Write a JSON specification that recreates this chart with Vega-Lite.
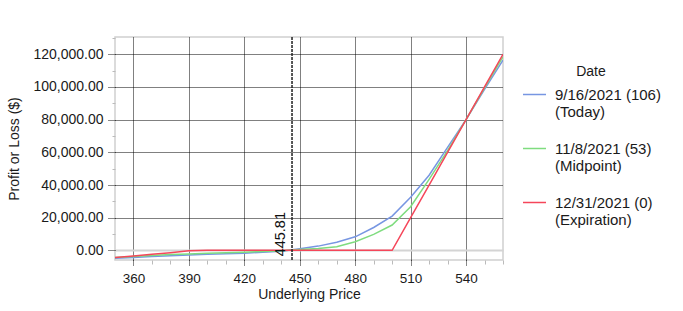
{
  "$schema": "https://vega.github.io/schema/vega-lite/v6.json",
  "width": 388,
  "height": 223,
  "autosize": "none",
  "padding": {"left": 115, "top": 37, "right": 180, "bottom": 51},
  "background": "white",
  "config": {
    "font": "Liberation Sans",
    "view": {"stroke": "#d0d0d0", "strokeWidth": 1.5},
    "axis": {
      "labelFont": "Liberation Sans",
      "titleFont": "Liberation Sans",
      "labelFontSize": 14,
      "titleFontSize": 14,
      "titleFontWeight": "normal",
      "labelColor": "#1a1a1a",
      "titleColor": "#1a1a1a",
      "labelOverlap": false,
      "domain": false
    },
    "legend": {
      "labelFont": "Liberation Sans",
      "titleFont": "Liberation Sans",
      "labelColor": "#1a1a1a",
      "titleColor": "#1a1a1a"
    }
  },
  "data": {
    "values": [
      {"price": 350, "pl": -4900, "date": "9/16/2021 (106)|(Today)"},
      {"price": 360, "pl": -4300, "date": "9/16/2021 (106)|(Today)"},
      {"price": 370, "pl": -3800, "date": "9/16/2021 (106)|(Today)"},
      {"price": 380, "pl": -3300, "date": "9/16/2021 (106)|(Today)"},
      {"price": 390, "pl": -2900, "date": "9/16/2021 (106)|(Today)"},
      {"price": 400, "pl": -2400, "date": "9/16/2021 (106)|(Today)"},
      {"price": 410, "pl": -2000, "date": "9/16/2021 (106)|(Today)"},
      {"price": 420, "pl": -1700, "date": "9/16/2021 (106)|(Today)"},
      {"price": 430, "pl": -1100, "date": "9/16/2021 (106)|(Today)"},
      {"price": 440, "pl": -500, "date": "9/16/2021 (106)|(Today)"},
      {"price": 450, "pl": 1000, "date": "9/16/2021 (106)|(Today)"},
      {"price": 460, "pl": 2600, "date": "9/16/2021 (106)|(Today)"},
      {"price": 470, "pl": 5000, "date": "9/16/2021 (106)|(Today)"},
      {"price": 480, "pl": 8300, "date": "9/16/2021 (106)|(Today)"},
      {"price": 490, "pl": 14000, "date": "9/16/2021 (106)|(Today)"},
      {"price": 500, "pl": 21000, "date": "9/16/2021 (106)|(Today)"},
      {"price": 510, "pl": 32500, "date": "9/16/2021 (106)|(Today)"},
      {"price": 520, "pl": 46000, "date": "9/16/2021 (106)|(Today)"},
      {"price": 530, "pl": 63000, "date": "9/16/2021 (106)|(Today)"},
      {"price": 540, "pl": 80000, "date": "9/16/2021 (106)|(Today)"},
      {"price": 550, "pl": 98500, "date": "9/16/2021 (106)|(Today)"},
      {"price": 560, "pl": 116500, "date": "9/16/2021 (106)|(Today)"},
      {"price": 350, "pl": -4300, "date": "11/8/2021 (53)|(Midpoint)"},
      {"price": 360, "pl": -3700, "date": "11/8/2021 (53)|(Midpoint)"},
      {"price": 370, "pl": -3100, "date": "11/8/2021 (53)|(Midpoint)"},
      {"price": 380, "pl": -2600, "date": "11/8/2021 (53)|(Midpoint)"},
      {"price": 390, "pl": -2200, "date": "11/8/2021 (53)|(Midpoint)"},
      {"price": 400, "pl": -1800, "date": "11/8/2021 (53)|(Midpoint)"},
      {"price": 410, "pl": -1400, "date": "11/8/2021 (53)|(Midpoint)"},
      {"price": 420, "pl": -1100, "date": "11/8/2021 (53)|(Midpoint)"},
      {"price": 430, "pl": -700, "date": "11/8/2021 (53)|(Midpoint)"},
      {"price": 440, "pl": -300, "date": "11/8/2021 (53)|(Midpoint)"},
      {"price": 450, "pl": 600, "date": "11/8/2021 (53)|(Midpoint)"},
      {"price": 460, "pl": 1200, "date": "11/8/2021 (53)|(Midpoint)"},
      {"price": 470, "pl": 2200, "date": "11/8/2021 (53)|(Midpoint)"},
      {"price": 480, "pl": 5300, "date": "11/8/2021 (53)|(Midpoint)"},
      {"price": 490, "pl": 9800, "date": "11/8/2021 (53)|(Midpoint)"},
      {"price": 500, "pl": 15500, "date": "11/8/2021 (53)|(Midpoint)"},
      {"price": 510, "pl": 26700, "date": "11/8/2021 (53)|(Midpoint)"},
      {"price": 520, "pl": 43500, "date": "11/8/2021 (53)|(Midpoint)"},
      {"price": 530, "pl": 61000, "date": "11/8/2021 (53)|(Midpoint)"},
      {"price": 540, "pl": 80000, "date": "11/8/2021 (53)|(Midpoint)"},
      {"price": 550, "pl": 99500, "date": "11/8/2021 (53)|(Midpoint)"},
      {"price": 560, "pl": 118500, "date": "11/8/2021 (53)|(Midpoint)"},
      {"price": 350, "pl": -4400, "date": "12/31/2021 (0)|(Expiration)"},
      {"price": 360, "pl": -3400, "date": "12/31/2021 (0)|(Expiration)"},
      {"price": 370, "pl": -2400, "date": "12/31/2021 (0)|(Expiration)"},
      {"price": 380, "pl": -1400, "date": "12/31/2021 (0)|(Expiration)"},
      {"price": 390, "pl": -300, "date": "12/31/2021 (0)|(Expiration)"},
      {"price": 400, "pl": 0, "date": "12/31/2021 (0)|(Expiration)"},
      {"price": 450, "pl": 0, "date": "12/31/2021 (0)|(Expiration)"},
      {"price": 500, "pl": 0, "date": "12/31/2021 (0)|(Expiration)"},
      {"price": 510, "pl": 20000, "date": "12/31/2021 (0)|(Expiration)"},
      {"price": 520, "pl": 40000, "date": "12/31/2021 (0)|(Expiration)"},
      {"price": 530, "pl": 60000, "date": "12/31/2021 (0)|(Expiration)"},
      {"price": 540, "pl": 80000, "date": "12/31/2021 (0)|(Expiration)"},
      {"price": 550, "pl": 100000, "date": "12/31/2021 (0)|(Expiration)"},
      {"price": 560, "pl": 120000, "date": "12/31/2021 (0)|(Expiration)"}
    ]
  },
  "layer": [
    {
      "mark": {"type": "line", "strokeWidth": 1.5, "clip": true},
      "encoding": {
        "x": {
          "field": "price",
          "type": "quantitative",
          "scale": {"domain": [350, 560], "nice": false, "zero": false},
          "axis": {
            "title": "Underlying Price",
            "values": [360, 370, 380, 390, 400, 410, 420, 430, 440, 450, 460, 470, 480, 490, 500, 510, 520, 530, 540, 550, 560],
            "tickCount": 100,
            "labelExpr": "datum.value % 30 === 0 ? datum.label : ''",
            "labelOverlap": false,
            "labelFontSize": 13.5,
            "labelPadding": 5,
            "titlePadding": 3,
            "gridOpacity": {"condition": {"test": "datum.value % 30 === 0", "value": 1}, "value": 0},
            "gridColor": "#000000",
            "gridDash": [1, 1],
            "tickSize": {"condition": {"test": "datum.value % 30 === 0", "value": 6}, "value": 4},
            "tickDash": {"condition": {"test": "datum.value % 30 === 0", "value": [1, 1]}, "value": []},
            "tickColor": {"condition": {"test": "datum.value % 30 === 0", "value": "#111111"}, "value": "#bbbbbb"}
          }
        },
        "y": {
          "field": "pl",
          "type": "quantitative",
          "scale": {"domain": [-5900, 130600], "nice": false, "zero": false},
          "axis": {
            "title": "Profit or Loss ($)",
            "values": [0, 10000, 20000, 30000, 40000, 50000, 60000, 70000, 80000, 90000, 100000, 110000, 120000, 130000],
            "tickCount": 100,
            "labelExpr": "datum.value % 20000 === 0 ? format(datum.value, ',.2f') : ''",
            "labelOverlap": false,
            "labelPadding": 4,
            "titlePadding": 11,
            "gridOpacity": {"condition": {"test": "datum.value % 20000 === 0", "value": 1}, "value": 0},
            "gridColor": {"condition": {"test": "datum.value === 0", "value": "#d4d4d4"}, "value": "#000000"},
            "gridDash": {"condition": {"test": "datum.value === 0", "value": []}, "value": [1, 1]},
            "gridWidth": {"condition": {"test": "datum.value === 0", "value": 2}, "value": 1},
            "tickSize": {"condition": {"test": "datum.value % 20000 === 0", "value": 8}, "value": 3},
            "tickDash": {"condition": {"test": "datum.value % 20000 === 0", "value": [1, 1]}, "value": []},
            "tickColor": {"condition": {"test": "datum.value % 20000 === 0", "value": "#111111"}, "value": "#bbbbbb"}
          }
        },
        "color": {
          "field": "date",
          "type": "nominal",
          "scale": {
            "domain": ["9/16/2021 (106)|(Today)", "11/8/2021 (53)|(Midpoint)", "12/31/2021 (0)|(Expiration)"],
            "range": ["#7796e2", "#7fdc7f", "#f5465a"]
          },
          "legend": {
            "title": "Date",
            "orient": "none",
            "legendX": 407,
            "legendY": 28,
            "labelExpr": "split(datum.label, '|')",
            "symbolType": "stroke",
            "symbolSize": 529,
            "symbolStrokeWidth": 1.5,
            "labelFontSize": 15,
            "titleFontSize": 14,
            "titleFontWeight": "normal",
            "titleAnchor": "middle",
            "rowPadding": 16,
            "titlePadding": 3,
            "labelOffset": 8,
            "labelLimit": 300
          }
        }
      }
    },
    {
      "data": {"values": [{"current": 445.81}]},
      "mark": {"type": "rule", "color": "#222222", "strokeDash": [3, 1], "strokeWidth": 1.5},
      "encoding": {"x": {"field": "current", "type": "quantitative"}}
    },
    {
      "data": {"values": [{"current": 445.81, "base": 0}]},
      "mark": {"type": "text", "angle": 270, "align": "left", "baseline": "bottom", "fontSize": 14.5, "font": "Liberation Sans", "color": "#111111", "dx": -6, "dy": -4},
      "encoding": {
        "x": {"field": "current", "type": "quantitative"},
        "y": {"field": "base", "type": "quantitative"},
        "text": {"field": "current", "type": "quantitative", "format": ".2f"}
      }
    }
  ]
}
